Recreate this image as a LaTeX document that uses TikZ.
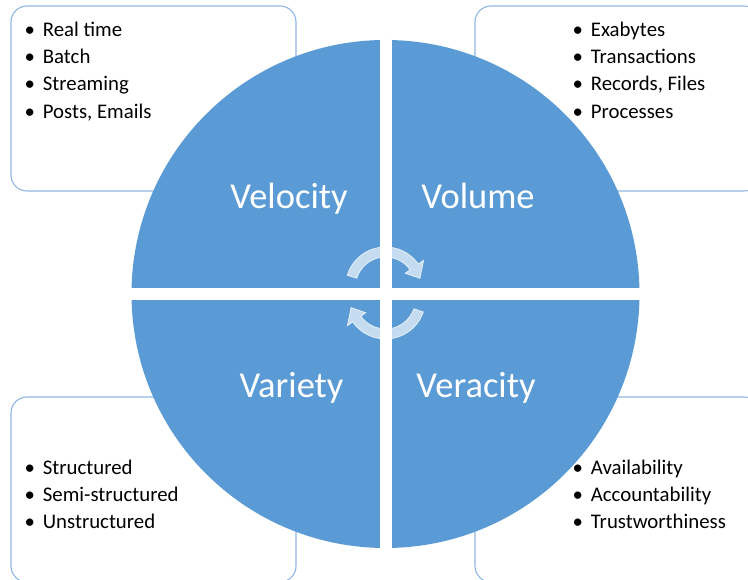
\documentclass[tikz,border=0pt]{standalone}
\usepackage{fontspec}
\setmainfont{Carlito}
\usetikzlibrary{calc}
\definecolor{wheelblue}{RGB}{91,155,213}
\definecolor{panelline}{RGB}{143,182,226}
\newcommand\bl{\makebox[26pt][c]{\textbullet}}
\begin{document}
\begin{tikzpicture}[x=1pt,y=1pt,
  panel/.style={draw=panelline, line width=1.1pt, fill=white, rounded corners=16pt,
    minimum width=285pt, minimum height=185pt, inner sep=0},
  item/.style={anchor=base west, inner sep=0, font=\fontsize{20.8}{25}\selectfont, text=black},
  big/.style={anchor=base, inner sep=0, text=white, font=\fontsize{36.5}{40}\selectfont},
  cyc/.style={fill=white, fill opacity=0.65, draw=white, draw opacity=0.8, line width=0.7pt}]
\useasboundingbox (0,0) rectangle (748,580);
\begin{scope}
  \clip (0,0) rectangle (748,580);
  \node[panel] (tl) at (153.5,481.5) {};
  \node[panel] (tr) at (617.5,481.5) {};
  \node[panel] (bl) at (153.5,90.5) {};
  \node[panel] (br) at (617.5,90.5) {};
\end{scope}
% items
\node[item] (tl1) at (16.7,543.5) {\bl Real time};
\node[item] (tl2) at (16.7,516.3) {\bl Batch};
\node[item] (tl3) at (16.7,489.1) {\bl Streaming};
\node[item] (tl4) at (16.7,461.9) {\bl Posts, Emails};
\node[item] (tr1) at (564.7,543.5) {\bl Exabytes};
\node[item] (tr2) at (564.7,516.3) {\bl Transactions};
\node[item] (tr3) at (564.7,489.1) {\bl Records, Files};
\node[item] (tr4) at (564.7,461.9) {\bl Processes};
% wheel
\node[circle, fill=wheelblue, minimum size=508pt, inner sep=0] (wheel) at (385.5,286) {};
\begin{scope}
  \clip (385.5,286) circle (254.5);
  \fill[white] (379.5,0) rectangle (391.5,580);
  \fill[white] (0,280) rectangle (748,292);
\end{scope}
\node[item] (bl1) at (16.7,105.5) {\bl Structured};
\node[item] (bl2) at (16.7,78.5) {\bl Semi-structured};
\node[item] (bl3) at (16.7,51.7) {\bl Unstructured};
\node[item] (br1) at (564.7,105.5) {\bl Availability};
\node[item] (br2) at (564.7,78.5) {\bl Accountability};
\node[item] (br3) at (564.7,51.7) {\bl Trustworthiness};
% labels
\node[big] (vel) at (289,371.7) {Velocity};
\node[big] (vol) at (478,371.7) {Volume};
\node[big] (var) at (291.5,182.7) {Variety};
\node[big] (ver) at (476,182.7) {Veracity};
% cycle arrows
\coordinate (c1) at (385.5,293);
\coordinate (c2) at (385.5,281);
\path[cyc] (c1) ++(163:40) arc[start angle=163, end angle=35, radius=40]
  -- ($(c1)+(35:46.5)$) -- ($(c1)+(14:35.5)$) -- ($(c1)+(35:24)$)
  -- ($(c1)+(35:30)$) arc[start angle=35, end angle=163, radius=30] -- cycle;
\path[cyc] (c2) ++(-19:40) arc[start angle=-19, end angle=-145, radius=40]
  -- ($(c2)+(-145:46.5)$) -- ($(c2)+(-166:35.5)$) -- ($(c2)+(-145:24)$)
  -- ($(c2)+(-145:30)$) arc[start angle=-145, end angle=-19, radius=30] -- cycle;
\end{tikzpicture}
\end{document}
